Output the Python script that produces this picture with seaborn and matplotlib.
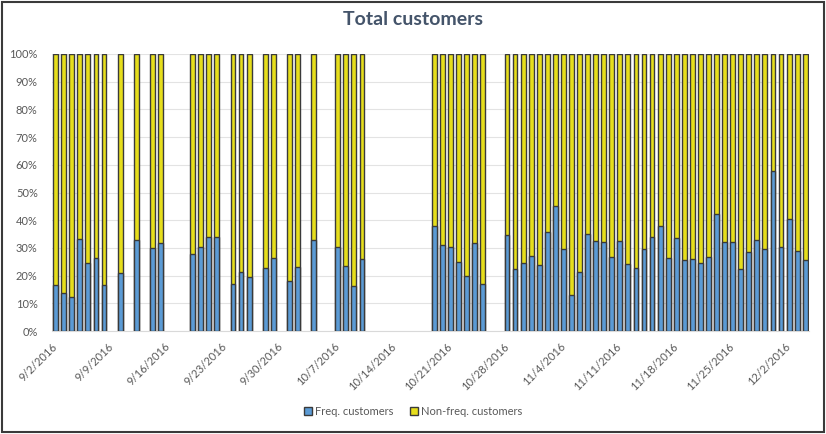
import pandas as pd
import numpy as np
import seaborn as sns
import matplotlib.pyplot as plt
from matplotlib.patches import Patch, Rectangle

# dates with data (sparse part, then a daily run to the end)
sparse_dates = ["2016-09-02", "2016-09-03", "2016-09-04", "2016-09-05", "2016-09-06", "2016-09-07",
                "2016-09-08", "2016-09-10", "2016-09-12", "2016-09-14", "2016-09-15", "2016-09-19",
                "2016-09-20", "2016-09-21", "2016-09-22", "2016-09-24", "2016-09-25", "2016-09-26",
                "2016-09-28", "2016-09-29", "2016-10-01", "2016-10-02", "2016-10-04", "2016-10-07",
                "2016-10-08", "2016-10-09", "2016-10-10", "2016-10-19", "2016-10-20", "2016-10-21",
                "2016-10-22", "2016-10-23", "2016-10-24", "2016-10-25"]
daily_dates = pd.date_range("2016-10-28", "2016-12-04", freq="D")

freq_pct = [16.5, 13.6, 12.4, 33.1, 24.5, 26.5, 16.5, 20.8, 32.7, 29.8, 31.6, 27.9,
            30.4, 33.8, 33.8, 16.8, 21.3, 19.5, 22.7, 26.5, 17.9, 23.1, 32.7, 30.2,
            23.5, 16.1, 26.1, 37.9, 30.9, 30.2, 24.9, 19.7, 31.6, 17.1,
            34.5, 22.4, 24.7, 27.2, 23.8, 35.7, 45.1, 29.5, 13.1, 21.2,
            35.0, 32.4, 32.1, 26.8, 32.5, 24.2, 22.6, 29.5, 33.8, 37.9,
            26.4, 33.5, 25.7, 26.0, 24.5, 26.7, 42.1, 32.1, 32.1, 22.4,
            28.4, 32.7, 29.5, 57.6, 30.2, 40.5, 28.8, 25.5]

tick_dates = pd.date_range("2016-09-02", "2016-12-02", freq="7D")

start = pd.Timestamp("2016-09-02")
dates = pd.to_datetime(sparse_dates).append(daily_dates)
df = pd.DataFrame({"date": dates, "freq": freq_pct})
df["total"] = 100.0
df["day"] = (df["date"] - start).dt.days + 0.5

blue = "#5B9BD5"
yellow = "#E6DE1C"
edge = "#3a3a3a"

sns.set_style("white")
plt.rcParams["font.family"] = ["Lato", "DejaVu Sans"]

fig = plt.figure(figsize=(8.26, 4.34), dpi=100)
ax = fig.add_axes([0.0625, 0.2373, 0.9172, 0.6383])

sns.barplot(data=df, x="day", y="total", native_scale=True, color=yellow, saturation=1,
            width=0.6, edgecolor=edge, linewidth=1, ax=ax, zorder=3)
sns.barplot(data=df, x="day", y="freq", native_scale=True, color=blue, saturation=1,
            width=0.6, edgecolor=edge, linewidth=1, ax=ax, zorder=4)

ax.set_xlim(0, 94)
ax.set_ylim(0, 100)
ax.set_yticks(np.arange(0, 101, 10))
ax.set_yticklabels([f"{v}%" for v in range(0, 101, 10)], color="#595959", fontsize=8)
ax.set_xticks((tick_dates - start).days)
ax.set_xticklabels([f"{d.month}/{d.day}/{d.year}" for d in tick_dates],
                   rotation=45, ha="right", rotation_mode="anchor", color="#595959", fontsize=8)
ax.tick_params(axis="x", length=4, color="#d9d9d9", pad=3)
ax.tick_params(axis="y", length=0, pad=10)
ax.set_xlabel("")
ax.set_ylabel("")
ax.yaxis.grid(True, color="#e3e3e3", linewidth=0.8, zorder=0)
ax.set_axisbelow(True)
for s in ["top", "right", "left"]:
    ax.spines[s].set_visible(False)
ax.spines["bottom"].set_color("#d9d9d9")

fig.suptitle("Total customers", x=0.5, y=0.975, fontsize=14, fontweight="bold", color="#44546A")

handles = [Patch(facecolor=blue, edgecolor=edge, label="Freq. customers"),
           Patch(facecolor=yellow, edgecolor=edge, label="Non-freq. customers")]
fig.legend(handles=handles, loc="center", bbox_to_anchor=(0.5, 0.052), ncol=2, frameon=False,
           fontsize=8, handlelength=0.7, handleheight=0.7, handletextpad=0.3, columnspacing=1.5,
           labelcolor="#595959")

fig.patches.append(Rectangle((0.002, 0.004), 0.996, 0.992, transform=fig.transFigure,
                             fill=False, edgecolor="#3a3a3a", linewidth=1.5))

fig.savefig("out.png", dpi=100)
